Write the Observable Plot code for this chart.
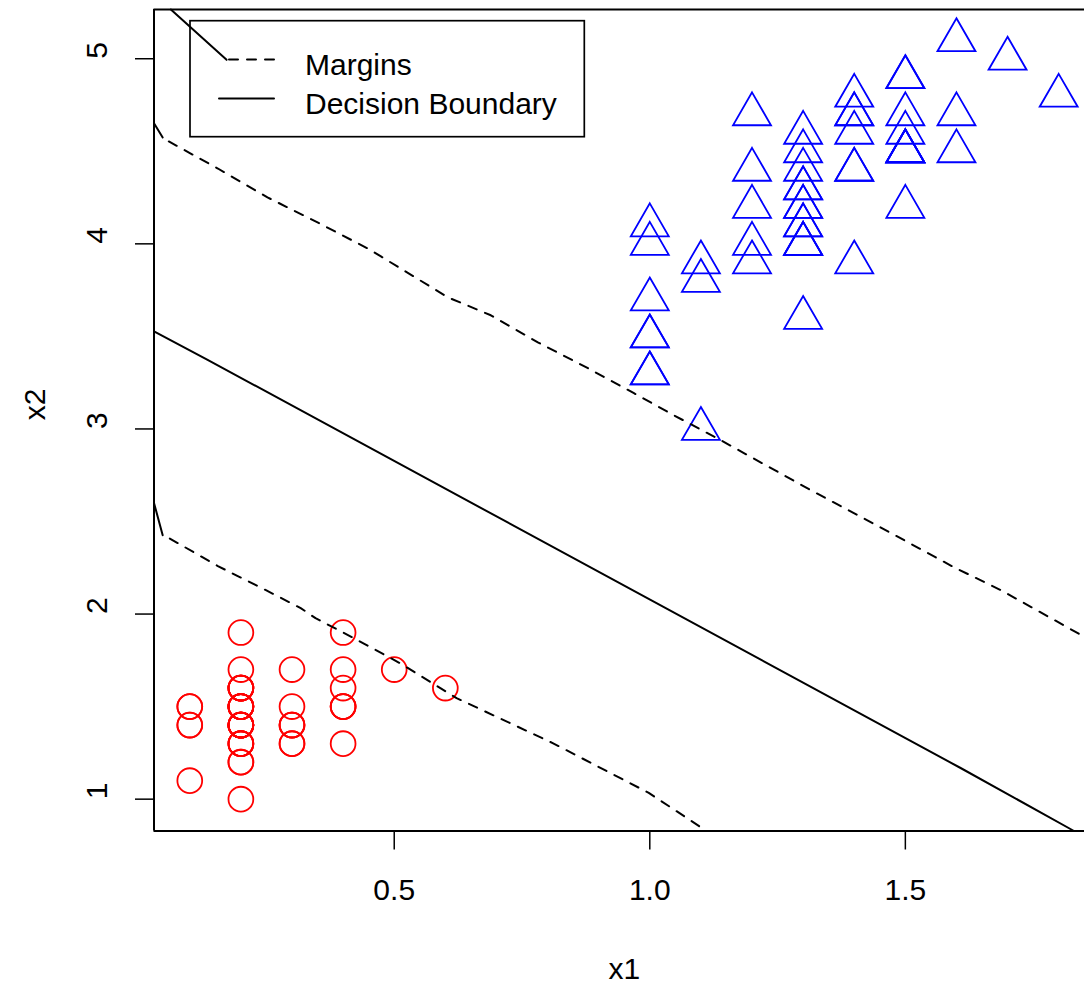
<!DOCTYPE html>
<html>
<head>
<meta charset="utf-8">
<script src="https://cdn.jsdelivr.net/npm/d3@7"></script>
<script src="https://cdn.jsdelivr.net/npm/@observablehq/plot@0.6"></script>
<style>
html, body { margin: 0; padding: 0; background: #fff; overflow: hidden; }
#wrap { position: relative; width: 1084px; height: 985px; }
#overlay { position: absolute; left: 0; top: 0; pointer-events: none; }
</style>
</head>
<body>
<div id="wrap"></div>
<script>
// ---- data ----
const setosaWidth  = [0.2,0.2,0.2,0.2,0.2,0.4,0.3,0.2,0.2,0.1,0.2,0.2,0.1,0.1,0.2,0.4,0.4,0.3,0.3,0.3,0.2,0.4,0.2,0.5,0.2,0.2,0.4,0.2,0.2,0.2,0.2,0.4,0.1,0.2,0.2,0.2,0.2,0.1,0.2,0.2,0.3,0.3,0.2,0.6,0.4,0.3,0.2,0.2,0.2,0.2];
const setosaLength = [1.4,1.4,1.3,1.5,1.4,1.7,1.4,1.5,1.4,1.5,1.5,1.6,1.4,1.1,1.2,1.5,1.3,1.4,1.7,1.5,1.7,1.5,1.0,1.7,1.9,1.6,1.6,1.5,1.4,1.6,1.6,1.5,1.5,1.4,1.5,1.2,1.3,1.4,1.3,1.5,1.3,1.3,1.3,1.6,1.9,1.4,1.6,1.4,1.5,1.4];
const versiWidth   = [1.4,1.5,1.5,1.3,1.5,1.3,1.6,1.0,1.3,1.4,1.0,1.5,1.0,1.4,1.3,1.4,1.5,1.0,1.5,1.1,1.8,1.3,1.5,1.2,1.3,1.4,1.4,1.7,1.5,1.0,1.1,1.0,1.2,1.6,1.5,1.6,1.5,1.3,1.3,1.3,1.2,1.4,1.2,1.0,1.3,1.2,1.3,1.3,1.1,1.3];
const versiLength  = [4.7,4.5,4.9,4.0,4.6,4.5,4.7,3.3,4.6,3.9,3.5,4.2,4.0,4.7,3.6,4.4,4.5,4.1,4.5,3.9,4.8,4.0,4.9,4.7,4.3,4.4,4.8,5.0,4.5,3.5,3.8,3.7,3.9,5.1,4.5,4.5,4.7,4.4,4.1,4.0,4.4,4.6,4.0,3.3,4.2,4.2,4.2,4.3,3.0,4.1];

// contour lines (x1, x2)
const upperMargin = [[0.059,4.553],[0.155,4.407],[0.252,4.251],[0.350,4.116],[0.448,3.975],[0.474,3.932],[0.605,3.711],[0.689,3.614],[0.781,3.468],[0.879,3.328],[0.969,3.193],[1.047,3.074],[1.139,2.939],[1.315,2.669],[1.407,2.534],[1.505,2.388],[1.595,2.253],[1.687,2.129],[1.851,1.876]];
const lowerMargin = [[0.061,2.408],[0.155,2.259],[0.249,2.129],[0.317,2.032],[0.346,1.978],[0.421,1.870],[0.511,1.735],[0.622,1.546],[0.810,1.303],[0.998,1.034],[1.110,0.830]];
const decisionBoundary = [[0.030,3.527],[0.134,3.375],[1.609,1.167],[1.830,0.828]];
const solidStubs = [
  [[0.030,4.652],[0.047,4.575]],
  [[0.030,2.600],[0.047,2.426]],
  [[0.063,5.266],[0.172,4.994]]
];

const xTicks = [0.5, 1.0, 1.5];
const yTicks = [1, 2, 3, 4, 5];
const xDomain = [0.030, 1.8505];
const yDomain = [0.828, 5.266];
const xTitle = "x1";
const yTitle = "x2";
const legendLabels = ["Margins", "Decision Boundary"];

// ---- build ----
const FONT = '"Liberation Sans", Arial, Helvetica, sans-serif';
const setosa = setosaWidth.map((w, i) => ({x1: w, x2: setosaLength[i]}));
const versicolor = versiWidth.map((w, i) => ({x1: w, x2: versiLength[i]}));
const stubData = solidStubs.flatMap((s, k) => s.map(p => ({x1: p[0], x2: p[1], k})));

const hasAxisMarks = typeof Plot.axisX === "function";

const marks = [
  Plot.dot(setosa, {x: "x1", y: "x2", r: 12.4, stroke: "#ff0000", fill: "none", strokeWidth: 1.8}),
  Plot.dot(versicolor, {x: "x1", y: "x2", r: 14.1, symbol: "triangle", stroke: "#0000ff", fill: "none", strokeWidth: 1.8}),
  Plot.line(upperMargin, {x: d => d[0], y: d => d[1], stroke: "black", strokeWidth: 2, strokeDasharray: "9,9"}),
  Plot.line(lowerMargin, {x: d => d[0], y: d => d[1], stroke: "black", strokeWidth: 2, strokeDasharray: "9,9"}),
  Plot.line(decisionBoundary, {x: d => d[0], y: d => d[1], stroke: "black", strokeWidth: 2}),
  Plot.line(stubData, {x: "x1", y: "x2", z: "k", stroke: "black", strokeWidth: 2}),
  Plot.ruleY([yDomain[0], yDomain[1]], {stroke: "black", strokeWidth: 2}),
  Plot.ruleX([xDomain[0]], {stroke: "black", strokeWidth: 2}),
  Plot.text(xTicks, {x: d => d, frameAnchor: "bottom", dy: 59.5, text: d => d.toFixed(1), fontSize: 30, lineAnchor: "middle", fill: "black"}),
  Plot.text(yTicks, {y: d => d, frameAnchor: "left", dx: -56.5, rotate: -90, text: d => String(d), fontSize: 30, lineAnchor: "middle", fill: "black"}),
  Plot.text([xTitle], {x: () => 0.95, frameAnchor: "bottom", dy: 138, text: d => d, fontSize: 30, lineAnchor: "middle", fill: "black"}),
  Plot.text([yTitle], {frameAnchor: "left", dx: -118.5, rotate: -90, text: d => d, fontSize: 30, lineAnchor: "middle", fill: "black"})
];
if (hasAxisMarks) {
  marks.push(Plot.axisX({ticks: xTicks, tickSize: 19, tickFormat: () => "", label: null, strokeWidth: 1.5}));
  marks.push(Plot.axisY({ticks: yTicks, tickSize: 18.5, tickFormat: () => "", label: null, strokeWidth: 1.5}));
}

const chart = Plot.plot({
  width: 1084,
  height: 985,
  marginLeft: 153.5,
  marginRight: 0,
  marginTop: 9,
  marginBottom: 154.5,
  style: {fontFamily: FONT, fontSize: "30px", background: "white", color: "black"},
  x: hasAxisMarks ? {domain: xDomain} : {domain: xDomain, ticks: xTicks, tickSize: 19, tickFormat: () => "", label: null},
  y: hasAxisMarks ? {domain: yDomain} : {domain: yDomain, ticks: yTicks, tickSize: 18.5, tickFormat: () => "", label: null},
  marks
});
const wrap = document.getElementById("wrap");
wrap.appendChild(chart);

// ---- legend overlay (inside plot, top-left) ----
const ov = d3.select(wrap).append("svg")
  .attr("id", "overlay").attr("width", 1084).attr("height", 985)
  .style("font-family", FONT).style("font-size", "30px");
ov.append("rect").attr("x", 190).attr("y", 20.7).attr("width", 394.3).attr("height", 116)
  .attr("fill", "none").attr("stroke", "black").attr("stroke-width", 1.7);
ov.append("line").attr("x1", 229).attr("x2", 274).attr("y1", 59.5).attr("y2", 59.5)
  .attr("stroke", "black").attr("stroke-width", 2).attr("stroke-dasharray", "9,9").attr("stroke-linecap", "round");
ov.append("line").attr("x1", 219).attr("x2", 274).attr("y1", 98.5).attr("y2", 98.5)
  .attr("stroke", "black").attr("stroke-width", 2).attr("stroke-linecap", "round");
ov.append("text").attr("x", 305).attr("y", 75).text(legendLabels[0]);
ov.append("text").attr("x", 305).attr("y", 114).text(legendLabels[1]);
</script>
</body>
</html>
